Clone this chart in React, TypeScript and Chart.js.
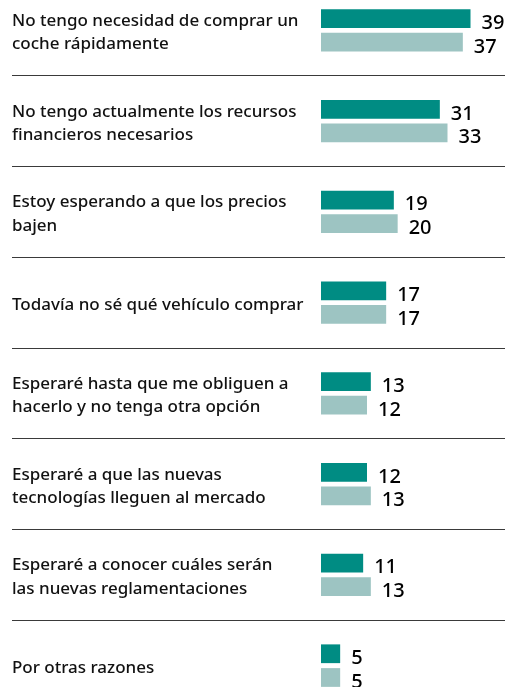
import React, { useEffect, useRef } from "react";
import { Chart, registerables } from "chart.js";

Chart.register(...registerables);

const categories: (string | string[])[] = [
  ["No tengo necesidad de comprar un", "coche rápidamente"],
  ["No tengo actualmente los recursos", "financieros necesarios"],
  ["Estoy esperando a que los precios", "bajen"],
  "Todavía no sé qué vehículo comprar",
  ["Esperaré hasta que me obliguen a", "hacerlo y no tenga otra opción"],
  ["Esperaré a que las nuevas", "tecnologías lleguen al mercado"],
  ["Esperaré a conocer cuáles serán", "las nuevas reglamentaciones"],
  "Por otras razones",
];

const seriesA = [39, 31, 19, 17, 13, 12, 11, 5];
const seriesB = [37, 33, 20, 17, 12, 13, 13, 5];

const DARK = "rgb(0,140,131)";
const LIGHT = "rgb(157,196,194)";
const LINE = "#3a3a3a";

const valueLabels = {
  id: "valueLabels",
  afterDatasetsDraw(chart: any) {
    const ctx = chart.ctx;
    ctx.save();
    ctx.font = "500 20px 'Noto Sans'";
    ctx.fillStyle = "#000";
    ctx.textAlign = "left";
    ctx.textBaseline = "alphabetic";
    chart.data.datasets.forEach((ds: any, di: number) => {
      const meta = chart.getDatasetMeta(di);
      meta.data.forEach((bar: any, i: number) => {
        ctx.fillText(String(ds.data[i]), bar.x + 11, bar.y + 10.3);
      });
    });
    ctx.restore();
  },
};

const categoryLabels = {
  id: "categoryLabels",
  afterDraw(chart: any) {
    const ctx = chart.ctx;
    const scale = chart.scales.y;
    ctx.save();
    ctx.font = "500 17px 'Noto Sans'";
    ctx.fillStyle = "#111";
    ctx.textAlign = "left";
    ctx.textBaseline = "alphabetic";
    const lh = 23.4;
    (chart.data.labels as any[]).forEach((lab: any, i: number) => {
      const lines: string[] = Array.isArray(lab) ? lab : [lab];
      const cy = scale.getPixelForValue(i);
      lines.forEach((ln, k) => {
        ctx.fillText(ln, scale.left, cy + 7.3 + (k - (lines.length - 1) / 2) * lh);
      });
    });
    ctx.restore();
  },
};

export default function App() {
  const ref = useRef<HTMLCanvasElement | null>(null);
  useEffect(() => {
    if (!ref.current) return;
    const lineColor = (c: any) => (c.index === 0 ? "rgba(0,0,0,0)" : LINE);
    const chart = new Chart(ref.current, {
      type: "bar",
      data: {
        labels: categories,
        datasets: [
          { data: seriesA, backgroundColor: DARK, barPercentage: 0.79, categoryPercentage: 0.523 },
          { data: seriesB, backgroundColor: LIGHT, barPercentage: 0.79, categoryPercentage: 0.523 },
        ],
      },
      options: {
        indexAxis: "y",
        responsive: false,
        animation: false,
        layout: { padding: { left: 12, right: 0, top: 0, bottom: 0 } },
        plugins: { legend: { display: false }, tooltip: { enabled: false } },
        scales: {
          x: { display: false, min: 0, max: 48 },
          y: {
            afterFit: (scale: any) => {
              scale.width = 309;
              scale.paddingTop = 0;
              scale.paddingBottom = 0;
            },
            border: { display: false },
            grid: {
              offset: true,
              color: lineColor,
              tickColor: lineColor,
              lineWidth: 1,
              drawTicks: true,
              tickLength: 309,
            },
            ticks: { display: false },
          },
        },
      },
      plugins: [valueLabels, categoryLabels],
    } as any);
    return () => chart.destroy();
  }, []);
  return (
    <div style={{ position: "fixed", left: 0, top: 0, width: 505, height: 687, overflow: "hidden", background: "#fff" }}>
      <div style={{ position: "absolute", left: 0, top: -15, width: 505, height: 726 }}>
        <canvas ref={ref} width={505} height={726} style={{ width: 505, height: 726, display: "block" }} />
      </div>
    </div>
  );
}
